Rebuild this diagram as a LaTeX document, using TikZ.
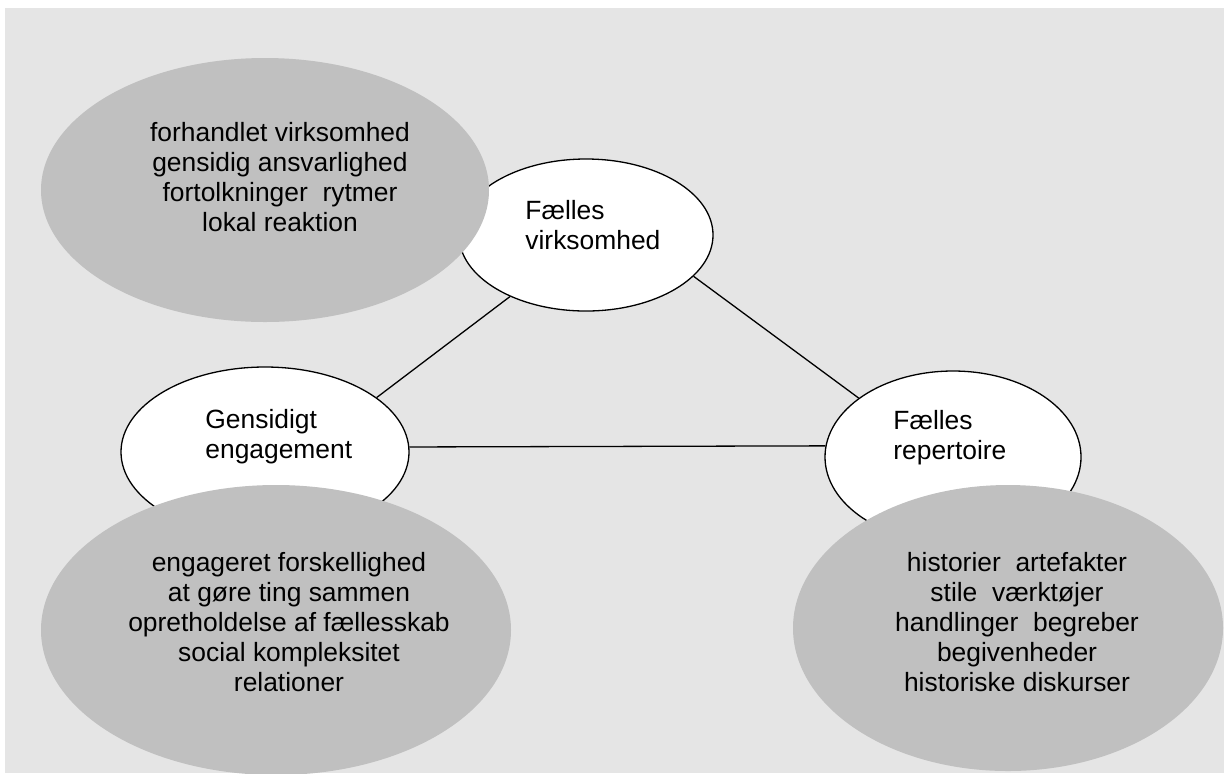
\documentclass[tikz,border=0pt]{standalone}
\usepackage{fontspec}
\setmainfont{Liberation Sans}
\usetikzlibrary{shapes.geometric}
\definecolor{bggray}{HTML}{E5E5E5}
\definecolor{ellgray}{HTML}{C0C0C0}
\begin{document}
\begin{tikzpicture}[x=0.5pt,y=-0.5pt,
  whiteell/.style={ellipse,draw=black,fill=white,line width=0.65pt,inner sep=0pt},
  grayell/.style={ellipse,fill=ellgray,inner sep=0pt},
  lbl/.style={align=left,font=\fontsize{13.2}{15}\selectfont,inner sep=0pt,anchor=west},
  note/.style={align=center,font=\fontsize{13.2}{15}\selectfont,inner sep=0pt},
  link/.style={line width=0.65pt}]
\useasboundingbox (0,0) rectangle (1224,773);
\fill[bggray] (5,8) rectangle (1224,773);
% main ellipses
\node[whiteell,minimum width=254pt*0.5,minimum height=152pt*0.5] (fv) at (586,235) {};
\node[whiteell,minimum width=288pt*0.5,minimum height=170pt*0.5] (ge) at (265,452) {};
\node[whiteell,minimum width=256pt*0.5,minimum height=172pt*0.5] (fr) at (953,457) {};
% connectors
\draw[link] (fv.219) -- (ge.26);
\draw[link] (fv.339) -- (fr.148);
\draw[link] (ge.2) -- (fr.175.3);
% grey ellipses
\node[grayell,minimum width=448pt*0.5,minimum height=264pt*0.5] (gtl) at (265,190) {};
\node[grayell,minimum width=470pt*0.5,minimum height=290pt*0.5] (gbl) at (276,630) {};
\node[grayell,minimum width=430pt*0.5,minimum height=286pt*0.5] (gbr) at (1008,628) {};
% labels
\node[lbl] (fvt) at (525,225) {Fælles\\virksomhed};
\node[lbl] (get) at (205,437) {Gensidigt\\engagement};
\node[lbl] (frt) at (893,438) {Fælles\\repertoire};
% notes
\node[note] (ntl) at (280,177) {forhandlet virksomhed\\gensidig ansvarlighed\\fortolkninger\ \ rytmer\\lokal reaktion};
\node[note] (nbl) at (289,622) {engageret forskellighed\\at gøre ting sammen\\opretholdelse af fællesskab\\social kompleksitet\\relationer};
\node[note] (nbr) at (1017,622) {historier\ \ artefakter\\stile\ \ værktøjer\\handlinger\ \ begreber\\begivenheder\\historiske diskurser};
\end{tikzpicture}
\end{document}
